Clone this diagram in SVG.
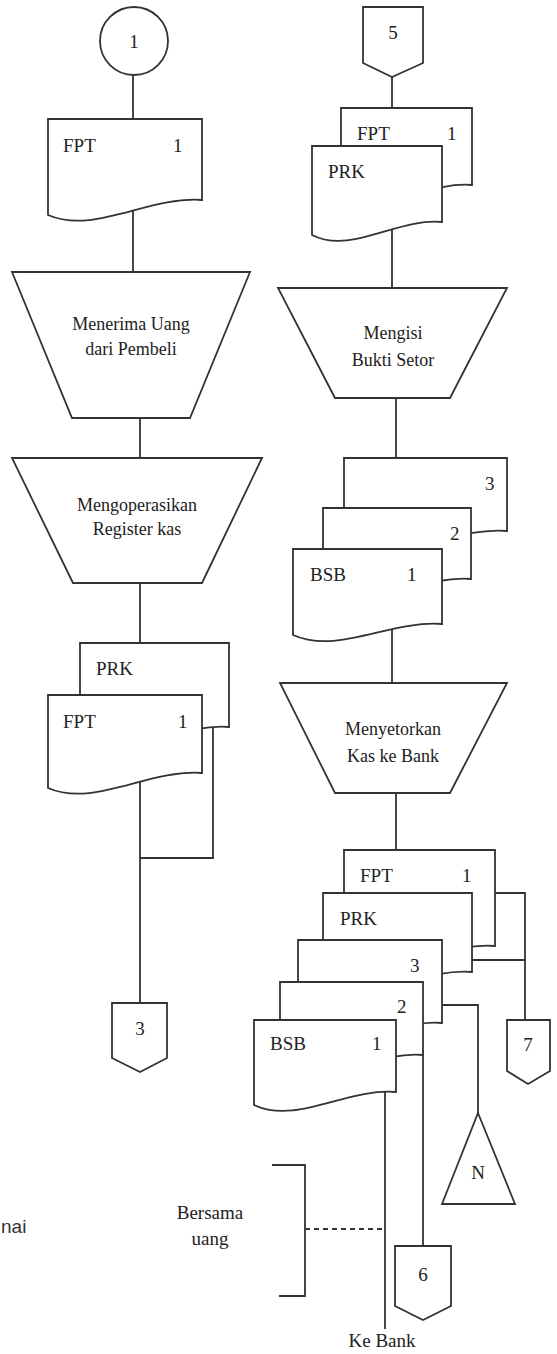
<svg xmlns="http://www.w3.org/2000/svg" width="557" height="1354" viewBox="0 0 557 1354">
<style>
.s{fill:#fff;stroke:#333;stroke-width:1.8;stroke-linejoin:miter}
.c{fill:none;stroke:#333;stroke-width:1.8}
.d{fill:none;stroke:#333;stroke-width:1.8;stroke-dasharray:5 4}
.t{font-family:"Liberation Serif",serif;font-size:19px;fill:#222}
.p{font-family:"Liberation Serif",serif;font-size:18px;fill:#222;text-anchor:middle}
.m{text-anchor:middle}
</style>
<rect width="557" height="1354" fill="#fff"/>
<g id="connectors">
<path class="c" d="M133,75V119"/>
<path class="c" d="M133,205V272"/>
<path class="c" d="M140,418V458"/>
<path class="c" d="M140,583V643"/>
<path class="c" d="M140,775V1003"/>
<path class="c" d="M213,727V858H140"/>
<path class="c" d="M392,77V108"/>
<path class="c" d="M392,220V288"/>
<path class="c" d="M396,398V458"/>
<path class="c" d="M392,625V683"/>
<path class="c" d="M396,793V850"/>
<path class="c" d="M495,893H525V1020"/>
<path class="c" d="M472,960H525"/>
<path class="c" d="M442,1005H478V1113"/>
<path class="c" d="M423,1050V1246"/>
<path class="c" d="M385,1085V1329"/>
<path class="d" d="M305,1229H385"/>
</g>
<g id="bracket">
<path class="c" d="M272,1165H305V1296H279"/>
</g>
<g id="start1">
<circle class="s" cx="134" cy="41" r="34"/>
<text class="t m" x="134" y="48">1</text>
</g>
<g id="docFPT1">
<path class="s" d="M48,119H202V200C148,196 94,235 48,215Z"/>
<text class="t" x="63" y="152">FPT</text>
<text class="t" x="173" y="152">1</text>
</g>
<g id="procMenerima">
<path class="s" d="M12,272H250L190,418H72Z"/>
<text class="p" x="131" y="330">Menerima Uang</text>
<text class="p" x="131" y="355">dari Pembeli</text>
</g>
<g id="procRegister">
<path class="s" d="M12,458H262L202,583H73Z"/>
<text class="p" x="137" y="511">Mengoperasikan</text>
<text class="p" x="137" y="535">Register kas</text>
</g>
<g id="docPRKleft">
<path class="s" d="M80,643H229V727C177,723 125,762 80,742Z"/>
<text class="t" x="96" y="675">PRK</text>
</g>
<g id="docFPTleft">
<path class="s" d="M48,695H202V773C148,769 94,808 48,788Z"/>
<text class="t" x="63" y="728">FPT</text>
<text class="t" x="178" y="728">1</text>
</g>
<g id="off3">
<path class="s" d="M112,1003H167V1058L140,1072L112,1058Z"/>
<text class="t m" x="140" y="1035">3</text>
</g>
<g id="off5">
<path class="s" d="M363,7H423V63L392,77L363,63Z"/>
<text class="t m" x="393" y="39">5</text>
</g>
<g id="docFPTright">
<path class="s" d="M341,108H472V185C426,181 380,218 341,198Z"/>
<text class="t" x="357" y="140">FPT</text>
<text class="t" x="447" y="140">1</text>
</g>
<g id="docPRKright">
<path class="s" d="M312,146H442V222C396,218 351,255 312,235Z"/>
<text class="t" x="328" y="178">PRK</text>
</g>
<g id="procMengisi">
<path class="s" d="M278,288H507L450,398H335Z"/>
<text class="p" x="393" y="339">Mengisi</text>
<text class="p" x="393" y="366">Bukti Setor</text>
</g>
<g id="docBSB3">
<path class="s" d="M344,458H507V531C450,527 393,565 344,545Z"/>
<text class="t" x="485" y="490">3</text>
</g>
<g id="docBSB2">
<path class="s" d="M323,508H471V579C419,575 367,613 323,593Z"/>
<text class="t" x="450" y="540">2</text>
</g>
<g id="docBSB1">
<path class="s" d="M293,549H442V624C390,620 338,655 293,635Z"/>
<text class="t" x="310" y="581">BSB</text>
<text class="t" x="407" y="581">1</text>
</g>
<g id="procMenyetorkan">
<path class="s" d="M280,683H507L450,793H335Z"/>
<text class="p" x="393" y="735">Menyetorkan</text>
<text class="p" x="393" y="762">Kas ke Bank</text>
</g>
<g id="docFPTlow">
<path class="s" d="M344,850H495V946C442,942 389,980 344,960Z"/>
<text class="t" x="360" y="882">FPT</text>
<text class="t" x="462" y="882">1</text>
</g>
<g id="docPRKlow">
<path class="s" d="M323,893H472V972C420,968 368,1006 323,986Z"/>
<text class="t" x="340" y="925">PRK</text>
</g>
<g id="docBSB3low">
<path class="s" d="M298,940H442V1023C392,1019 341,1057 298,1037Z"/>
<text class="t" x="410" y="972">3</text>
</g>
<g id="docBSB2low">
<path class="s" d="M280,982H423V1055C373,1051 323,1089 280,1069Z"/>
<text class="t" x="397" y="1013">2</text>
</g>
<g id="docBSB1low">
<path class="s" d="M254,1020H396V1092C346,1088 297,1125 254,1105Z"/>
<text class="t" x="270" y="1050">BSB</text>
<text class="t" x="372" y="1050">1</text>
</g>
<g id="off7">
<path class="s" d="M507,1020H550V1071L528,1084L507,1071Z"/>
<text class="t m" x="528" y="1051">7</text>
</g>
<g id="fileN">
<path class="s" d="M478,1113L515,1204H442Z"/>
<text class="t m" x="478" y="1179">N</text>
</g>
<g id="off6">
<path class="s" d="M395,1246H451V1306L423,1320L395,1306Z"/>
<text class="t m" x="423" y="1281">6</text>
</g>
<g id="labels">
<text class="t m" x="210" y="1219">Bersama</text>
<text class="t m" x="210" y="1245">uang</text>
<text class="t m" x="382" y="1347">Ke Bank</text>
<text x="1" y="1233" style="font-family:'Liberation Sans',sans-serif;font-size:19px;fill:#333">nai</text>
</g>
</svg>
